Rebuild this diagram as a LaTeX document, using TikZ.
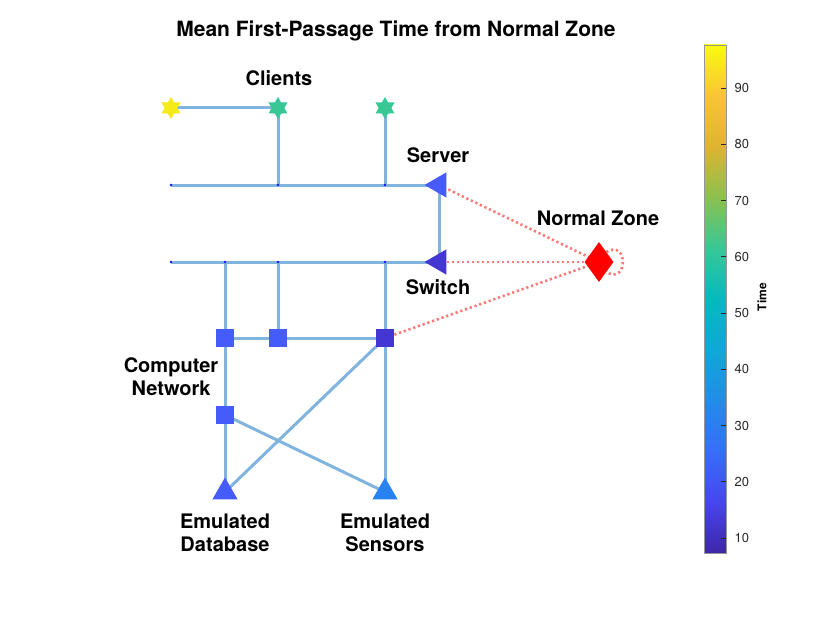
\documentclass[tikz,border=0pt]{standalone}
\usepackage{fontspec}
\setmainfont{TeX Gyre Heros}
\usepackage{tikz}
\usetikzlibrary{shapes.geometric,backgrounds}
\usepackage{xcolor}
\definecolor{edgeblue}  {RGB}{128,180,222}
\definecolor{zonered}   {RGB}{255,120,120}
\definecolor{hubblue}   {RGB}{ 20, 20,235}
\definecolor{tickgray}  {RGB}{ 40, 40, 40}
\definecolor{framegray} {RGB}{150,150,150}
\definecolor{clientyel} {RGB}{245,235, 25}
\definecolor{clientgrn} {RGB}{ 55,200,150}
\definecolor{nodeblue}  {RGB}{ 70, 92,250}
\definecolor{nodeviolet}{RGB}{ 68, 54,210}
\definecolor{nodesky}   {RGB}{ 40,130,242}
%% parula-like colour stops
\definecolor{par0} {RGB}{ 62, 38,168}
\definecolor{par1} {RGB}{ 71, 70,238}
\definecolor{par2} {RGB}{ 55,110,248}
\definecolor{par3} {RGB}{ 35,140,232}
\definecolor{par4} {RGB}{ 15,168,215}
\definecolor{par5} {RGB}{  5,185,190}
\definecolor{par6} {RGB}{ 55,200,150}
\definecolor{par7} {RGB}{140,192, 80}
\definecolor{par8} {RGB}{222,180, 48}
\definecolor{par9} {RGB}{250,195, 55}
\definecolor{par10}{RGB}{249,251, 14}
\pgfdeclareverticalshading{parula}{100bp}{color(0bp)=(par0); color(25bp)=(par0);
  color(30bp)=(par1); color(35bp)=(par2); color(40bp)=(par3); color(45bp)=(par4);
  color(50bp)=(par5); color(55bp)=(par6); color(60bp)=(par7); color(65bp)=(par8);
  color(70bp)=(par9); color(75bp)=(par10); color(100bp)=(par10)}

\begin{document}
\begin{tikzpicture}[
  x=1pt,y=-1pt,
  every node/.style={font=\bfseries\fontsize{20}{23}\selectfont,align=center},
  link/.style={edgeblue,line width=3pt},
  zonelink/.style={zonered,line width=2.6pt,dash pattern=on 2.2pt off 2.8pt},
  hub/.style={circle,fill=hubblue,inner sep=0pt,minimum size=2.6pt},
  client/.style={star,star points=6,star point ratio=1.732,inner sep=0pt,minimum size=22pt},
  tri/.style={regular polygon,regular polygon sides=3,inner sep=0pt,minimum size=29pt},
  box/.style={rectangle,inner sep=0pt,minimum size=18pt},
  ticklbl/.style={font=\fontsize{13}{15}\selectfont,text=tickgray,anchor=west},
]
\useasboundingbox (0,0) rectangle (830,623);

%% Title
\node (title) at (396,31) {\fontsize{21}{24}\selectfont Mean First-Passage Time from Normal Zone};

%% ── Clients and server bus ──────────────────────────────────────────────
\node[client,fill=clientyel] (c1) at (171,108) {};
\node[client,fill=clientgrn] (c2) at (278,108) {};
\node[client,fill=clientgrn] (c3) at (385,108) {};
\node[hub] (j1) at (171,185) {};
\node[hub] (j2) at (278,185) {};
\node[hub] (j3) at (385,185) {};
\node[tri,rotate=90,fill=nodeblue] (srv) at (439,185) {};

%% ── Switch bus ───────────────────────────────────────────────────────────
\node[hub] (k1) at (171,262) {};
\node[hub] (k2) at (225,262) {};
\node[hub] (k3) at (278,262) {};
\node[hub] (k4) at (385,262) {};
\node[tri,rotate=90,fill=nodeviolet] (sw) at (439,262) {};

%% ── Computer network ────────────────────────────────────────────────────
\node[box,fill=nodeblue] (n1) at (225,338) {};
\node[box,fill=nodeblue] (n2) at (278,338) {};
\node[box,fill=nodeviolet] (n3) at (385,338) {};
\node[box,fill=nodeblue] (n4) at (225,415) {};
\node[tri,fill=nodeblue] (db) at (225,492) {};
\node[tri,fill=nodesky] (sen) at (385,492) {};

%% Normal zone
\node[diamond,fill=red,inner sep=0pt,minimum width=29pt,minimum height=40pt] (nz) at (599,262) {};

%% Labels
\node (lclients) at (279,78) {Clients};
\node (lserver) at (438,155) {Server};
\node (lswitch) at (438,287) {Switch};
\node (lzone) at (598,218) {Normal Zone};
\node (lnet) at (171,377) {Computer\\Network};
\node (ldb) at (225,533) {Emulated\\Database};
\node (lsen) at (385,533) {Emulated\\Sensors};

%% ── Connectors ───────────────────────────────────────────────────────────
\begin{scope}[on background layer]
  \draw[link] (c1.center) -- (c2.center);
  \draw[link] (c2.center) -- (j2.center);
  \draw[link] (c3.center) -- (j3.center);
  \draw[link] (j1.center) -- (j2.center) -- (j3.center) -- (srv.center);
  \draw[link] (srv.center) -- (sw.center);
  \draw[link] (k1.center) -- (k2.center) -- (k3.center) -- (k4.center) -- (sw.center);
  \draw[link] (k2.center) -- (n1.center);
  \draw[link] (k3.center) -- (n2.center);
  \draw[link] (k4.center) -- (n3.center);
  \draw[link] (n1.center) -- (n2.center) -- (n3.center);
  \draw[link] (n1.center) -- (n4.center) -- (db.center);
  \draw[link] (n3.center) -- (sen.center);
  \draw[link] (n3.center) -- (db.center);
  \draw[link] (n4.center) -- (sen.center);
  \draw[zonelink] (nz.center) -- (srv.center);
  \draw[zonelink] (nz.center) -- (sw.center);
  \draw[zonelink] (nz.center) -- (n3.center);
  \draw[zonelink] (nz.north east) .. controls +(22,-13) and +(22,13) .. (nz.south east);
\end{scope}

%% ── Colour bar ──────────────────────────────────────────────────────────
\shade[shading=parula] (704,45) rectangle (726,553);
\draw[framegray,line width=0.8pt] (704,45) rectangle (726,553);
\foreach \v in {10,20,...,90} {
  \pgfmathsetmacro\ty{538-(\v-10)*5.625}
  \draw[tickgray,line width=0.6pt] (726,\ty) -- (721,\ty);
  \node[ticklbl] (tick\v) at (731,\ty) {\v};
}
\node[rotate=90,font=\bfseries\fontsize{12}{14}\selectfont] (lbar) at (762,297) {Time};

\end{tikzpicture}
\end{document}
